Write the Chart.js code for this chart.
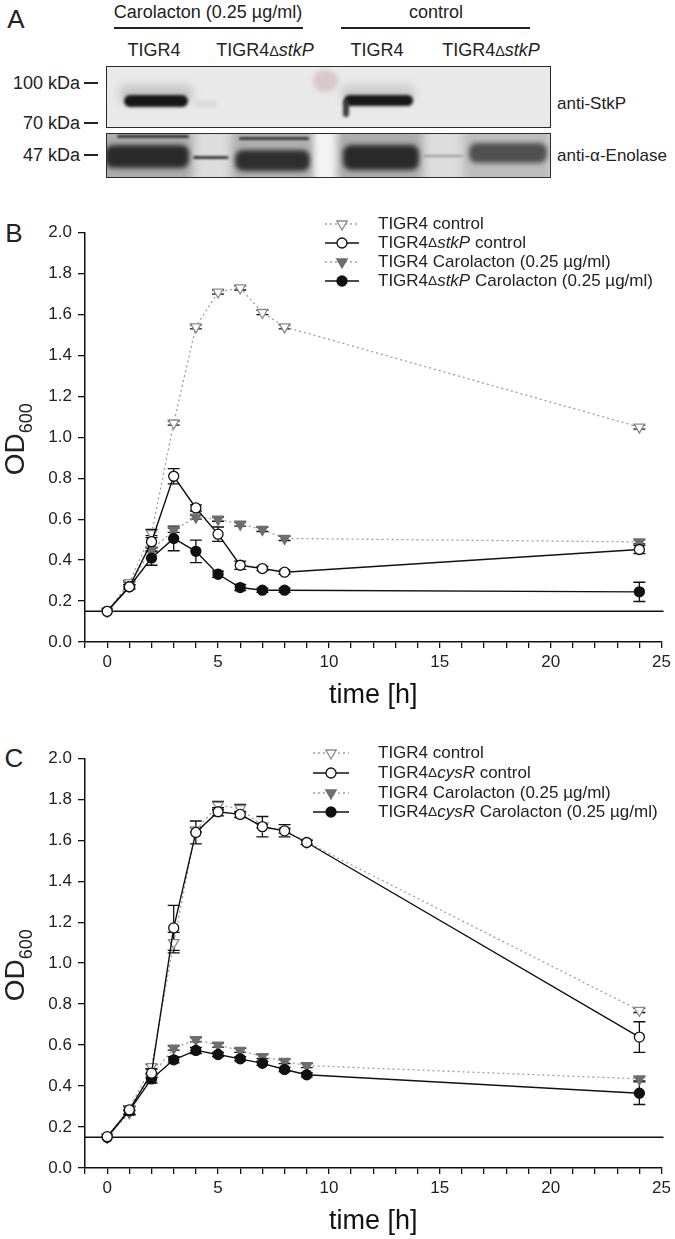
<!DOCTYPE html>
<html>
<head>
<meta charset="utf-8">
<script src="https://cdn.jsdelivr.net/npm/chart.js@4/dist/chart.umd.min.js"></script>
<style>
  body { margin: 0; background: #fff; }
  #page { position: relative; width: 675px; height: 1239px; background: #fff; overflow: hidden;
          font-family: "Liberation Sans", Arial, sans-serif; color: #222; }
  .t { position: absolute; line-height: 1; white-space: nowrap; transform: translate(-50%, -50%); }
  .l { transform: translate(0, -50%); }
  .r { transform: translate(-100%, -50%); }
  .rule { position: absolute; height: 1.5px; background: #222; }
  .box { position: absolute; border: 1.5px solid #2a2a2a; overflow: hidden; }
  .b { position: absolute; border-radius: 8px; }
  .d { font-size: 0.8em; }
  canvas { position: absolute; left: 0; }
</style>
</head>
<body>
<div id="page">
  <!-- panel A: western blot -->
  <div class="t" style="left:16px;top:19px;font-size:26px">A</div>
  <div class="t" style="left:208px;top:12px;font-size:18px">Carolacton (0.25 µg/ml)</div>
  <div class="t" style="left:436px;top:12px;font-size:18px">control</div>
  <div class="rule" style="left:114px;top:27px;width:189px"></div>
  <div class="rule" style="left:341px;top:27px;width:189px"></div>
  <div class="t" style="left:154px;top:50px;font-size:18px">TIGR4</div>
  <div class="t" style="left:265px;top:50px;font-size:18px">TIGR4<span class="d">Δ</span><i>stkP</i></div>
  <div class="t" style="left:377px;top:50px;font-size:18px">TIGR4</div>
  <div class="t" style="left:491px;top:50px;font-size:18px">TIGR4<span class="d">Δ</span><i>stkP</i></div>

  <div class="t r" style="left:80px;top:83px;font-size:18px">100 kDa</div>
  <div class="t r" style="left:80px;top:123px;font-size:18px">70 kDa</div>
  <div class="t r" style="left:80px;top:155px;font-size:18px">47 kDa</div>
  <div class="rule" style="left:84px;top:82px;width:14px"></div>
  <div class="rule" style="left:84px;top:122px;width:14px"></div>
  <div class="rule" style="left:84px;top:154px;width:14px"></div>
  <div class="t l" style="left:557px;top:103px;font-size:17px">anti-StkP</div>
  <div class="t l" style="left:557px;top:155px;font-size:17px">anti-α-Enolase</div>

  <div class="box" style="left:106px;top:66px;width:443px;height:60px;background:#e9e9e9">
    <div class="b" style="left:12px;top:18px;width:74px;height:18px;background:#c6c6c6;filter:blur(4px)"></div>
    <div class="b" style="left:17px;top:28px;width:64px;height:12px;background:#171717;filter:blur(1.8px)"></div>
    <div class="b" style="left:88px;top:35px;width:22px;height:4px;background:#d0d0d0;filter:blur(2px)"></div>
    <div class="b" style="left:206px;top:3px;width:25px;height:22px;border-radius:50%;background:#d8c8c8;filter:blur(2px)"></div>
    <div class="b" style="left:234px;top:18px;width:74px;height:18px;background:#cbcbcb;filter:blur(4px)"></div>
    <div class="b" style="left:237px;top:28px;width:69px;height:11px;background:#171717;filter:blur(1.8px)"></div>
    <div class="b" style="left:236px;top:33px;width:6px;height:17px;background:#3a3a3a;filter:blur(1.6px)"></div>
  </div>
  <div class="box" style="left:106px;top:133px;width:443px;height:43px;background:#dcdcdc">
    <div class="b" style="left:-6px;top:-6px;width:92px;height:56px;background:#ababab;filter:blur(4px)"></div>
    <div class="b" style="left:10px;top:1px;width:72px;height:3px;background:#3a3a3a;filter:blur(1px)"></div>
    <div class="b" style="left:-2px;top:11px;width:84px;height:23px;background:#2a2a2a;filter:blur(2.4px)"></div>
    <div class="b" style="left:86px;top:22px;width:36px;height:3px;background:#3a3a3a;filter:blur(1.2px)"></div>
    <div class="b" style="left:124px;top:-6px;width:84px;height:56px;background:#b0b0b0;filter:blur(4px)"></div>
    <div class="b" style="left:132px;top:3px;width:70px;height:3px;background:#3a3a3a;filter:blur(1px)"></div>
    <div class="b" style="left:128px;top:16px;width:75px;height:21px;background:#2e2e2e;filter:blur(2.4px)"></div>
    <div class="b" style="left:208px;top:-6px;width:26px;height:56px;background:#f4f4f4;filter:blur(3px)"></div>
    <div class="b" style="left:230px;top:-6px;width:86px;height:56px;background:#ababab;filter:blur(4px)"></div>
    <div class="b" style="left:236px;top:11px;width:76px;height:25px;background:#2a2a2a;filter:blur(2.4px)"></div>
    <div class="b" style="left:316px;top:21px;width:42px;height:2px;background:#9a9a9a;filter:blur(1px)"></div>
    <div class="b" style="left:356px;top:-6px;width:88px;height:56px;background:#bcbcbc;filter:blur(4px)"></div>
    <div class="b" style="left:362px;top:9px;width:78px;height:20px;background:#505050;filter:blur(2.4px)"></div>
  </div>

  <div class="t" style="left:14px;top:233px;font-size:26px">B</div>
  <div class="t" style="left:14px;top:758px;font-size:26px">C</div>

  <canvas id="chartB" width="675" height="512" style="top:200px"></canvas>
  <canvas id="chartC" width="675" height="512" style="top:726px"></canvas>
</div>

<script>
// ---- data ----
const timesB = [0, 1, 2, 3, 4, 5, 6, 7, 8, 24];
const timesC = [0, 1, 2, 3, 4, 5, 6, 7, 8, 9, 24];

const labelsB = ['TIGR4 control', 'TIGR4Δ*stkP* control',
                 'TIGR4 Carolacton (0.25 µg/ml)', 'TIGR4Δ*stkP* Carolacton (0.25 µg/ml)'];
const labelsC = ['TIGR4 control', 'TIGR4Δ*cysR* control',
                 'TIGR4 Carolacton (0.25 µg/ml)', 'TIGR4Δ*cysR* Carolacton (0.25 µg/ml)'];

// panel B
const bTigr4Control    = [0.15, 0.29, 0.53, 1.07, 1.54, 1.71, 1.73, 1.61, 1.54, 1.05];
const bStkPControl     = [0.15, 0.27, 0.49, 0.81, 0.655, 0.527, 0.375, 0.359, 0.341, 0.452];
const bTigr4Caro       = [0.15, 0.28, 0.45, 0.546, 0.61, 0.60, 0.576, 0.55, 0.506, 0.489];
const bStkPCaro        = [0.15, 0.27, 0.41, 0.506, 0.443, 0.331, 0.266, 0.253, 0.253, 0.245];
const bTigr4ControlErr = [0, 0.01, 0.02, 0.01, 0.01, 0.01, 0.01, 0.01, 0.01, 0.01];
const bStkPControlErr  = [0, 0.01, 0.03, 0.037, 0.015, 0.035, 0.02, 0.01, 0.01, 0.02];
const bTigr4CaroErr    = [0, 0.01, 0.01, 0.01, 0.01, 0.01, 0.01, 0.01, 0.01, 0.01];
const bStkPCaroErr     = [0, 0.01, 0.035, 0.06, 0.055, 0.015, 0.015, 0.01, 0.01, 0.047];

// panel C
const cTigr4Control    = [0.15, 0.29, 0.495, 1.10, 1.65, 1.77, 1.755, 1.67, 1.645, 1.59, 0.769];
const cCysRControl     = [0.153, 0.284, 0.463, 1.172, 1.638, 1.739, 1.726, 1.666, 1.646, 1.589, 0.639];
const cTigr4Caro       = [0.15, 0.27, 0.45, 0.585, 0.626, 0.60, 0.574, 0.544, 0.52, 0.50, 0.435];
const cCysRCaro        = [0.15, 0.28, 0.435, 0.528, 0.574, 0.554, 0.533, 0.511, 0.481, 0.455, 0.365];
const cTigr4ControlErr = [0, 0.01, 0.01, 0.05, 0.01, 0.02, 0.02, 0.01, 0.01, 0.01, 0.01];
const cCysRControlErr  = [0, 0.02, 0.02, 0.11, 0.056, 0.02, 0.015, 0.05, 0.03, 0.01, 0.075];
const cTigr4CaroErr    = [0, 0.01, 0.01, 0.01, 0.01, 0.01, 0.01, 0.01, 0.01, 0.01, 0.01];
const cCysRCaroErr     = [0, 0.02, 0.02, 0.015, 0.015, 0.01, 0.01, 0.01, 0.01, 0.01, 0.055];

const baselineOD = 0.15; // starting OD line

const FONT = '"Liberation Sans", Arial, sans-serif';

// series look, same order as the legends
const styles = [
  { pointStyle: 'triangle', rotation: 180, radius: 6, fill: '#ffffff', stroke: '#8a8a8a', line: '#9e9e9e', dash: [2, 3], width: 1.3, order: 2 },
  { pointStyle: 'circle', rotation: 0, radius: 5, fill: '#ffffff', stroke: '#111111', line: '#111111', dash: [], width: 1.4, order: 0 },
  { pointStyle: 'triangle', rotation: 180, radius: 6, fill: '#6e6e6e', stroke: '#6e6e6e', line: '#9e9e9e', dash: [2, 3], width: 1.3, order: 3 },
  { pointStyle: 'circle', rotation: 0, radius: 5, fill: '#111111', stroke: '#111111', line: '#111111', dash: [], width: 1.4, order: 1 },
];

// text with *italic* parts and a smaller delta
function drawRich(ctx, str, x, y, size) {
  str.split(/(\*[^*]+\*|Δ)/).filter(Boolean).forEach(tok => {
    let s = size, it = '';
    if (tok === 'Δ') s = size * 0.8;
    if (tok[0] === '*') { tok = tok.slice(1, -1); it = 'italic '; }
    ctx.font = it + s + 'px ' + FONT;
    ctx.fillText(tok, x, y);
    x += ctx.measureText(tok).width;
  });
}

function drawMarker(ctx, st, x, y) {
  ctx.fillStyle = st.fill;
  ctx.strokeStyle = st.stroke;
  ctx.lineWidth = 1.3;
  ctx.setLineDash([]);
  ctx.beginPath();
  if (st.pointStyle === 'circle') {
    ctx.arc(x, y, st.radius, 0, Math.PI * 2);
  } else {
    const r = st.radius;
    let a = Math.PI;
    for (let k = 0; k < 3; k++) {
      const px = x + Math.sin(a) * r, py = y - Math.cos(a) * r;
      k ? ctx.lineTo(px, py) : ctx.moveTo(px, py);
      a += Math.PI * 2 / 3;
    }
    ctx.closePath();
  }
  ctx.fill();
  ctx.stroke();
}

function makeExtras(legend) {
  return {
    id: 'extras',
    beforeDatasetsDraw(chart) {
      const { ctx, chartArea, scales: { x, y } } = chart;
      ctx.save();
      ctx.strokeStyle = '#111';
      ctx.lineWidth = 1.5;
      const yb = y.getPixelForValue(baselineOD);
      ctx.beginPath();
      ctx.moveTo(chartArea.left, yb);
      ctx.lineTo(chartArea.right + 2, yb);
      ctx.stroke();
      // error bars
      ctx.lineWidth = 1.3;
      chart.data.datasets.forEach(ds => {
        ds.data.forEach((p, i) => {
          const e = ds.errors[i];
          if (!e) return;
          const px = x.getPixelForValue(p.x);
          const top = y.getPixelForValue(p.y + e), bot = y.getPixelForValue(p.y - e);
          ctx.beginPath();
          ctx.moveTo(px, top); ctx.lineTo(px, bot);
          ctx.moveTo(px - 6, top); ctx.lineTo(px + 6, top);
          ctx.moveTo(px - 6, bot); ctx.lineTo(px + 6, bot);
          ctx.stroke();
        });
      });
      ctx.restore();
    },
    afterDraw(chart) {
      const { ctx, chartArea } = chart;
      ctx.save();
      // legend
      ctx.textBaseline = 'middle';
      chart.data.datasets.forEach((ds, i) => {
        const st = styles[i], ry = legend.rows[i];
        ctx.strokeStyle = st.line;
        ctx.lineWidth = st.width;
        ctx.setLineDash(st.dash);
        ctx.beginPath();
        ctx.moveTo(legend.x0, ry); ctx.lineTo(legend.x1, ry);
        ctx.stroke();
        drawMarker(ctx, st, legend.xm, ry);
        ctx.fillStyle = '#222';
        drawRich(ctx, ds.label, legend.tx, ry, 17);
      });
      // y title OD600
      const cy = (chartArea.top + chartArea.bottom) / 2 + 2;
      ctx.translate(24, cy);
      ctx.rotate(-Math.PI / 2);
      ctx.textBaseline = 'alphabetic';
      ctx.font = '28px ' + FONT;
      const w1 = ctx.measureText('OD').width;
      ctx.font = '18px ' + FONT;
      const w2 = ctx.measureText('600').width;
      const sx = -(w1 + w2) / 2;
      ctx.font = '28px ' + FONT;
      ctx.fillText('OD', sx, 0);
      ctx.font = '18px ' + FONT;
      ctx.fillText('600', sx + w1, 8);
      ctx.restore();
    }
  };
}

function makeChart(id, times, series, errs, labels, legend, padTop) {
  const datasets = series.map((vals, i) => ({
    label: labels[i],
    data: times.map((t, k) => ({ x: t, y: vals[k] })),
    errors: errs[i],
    borderColor: styles[i].line,
    borderWidth: styles[i].width,
    borderDash: styles[i].dash,
    pointStyle: styles[i].pointStyle,
    pointRotation: styles[i].rotation,
    pointRadius: styles[i].radius,
    pointBackgroundColor: styles[i].fill,
    pointBorderColor: styles[i].stroke,
    pointBorderWidth: 1.3,
    tension: 0,
    fill: false,
    order: styles[i].order,
  }));

  return new Chart(document.getElementById(id), {
    type: 'line',
    data: { datasets },
    options: {
      responsive: false,
      animation: false,
      events: [],
      layout: { padding: { top: padTop, right: 12, left: 0, bottom: 0 } },
      plugins: { legend: { display: false }, tooltip: { enabled: false } },
      scales: {
        x: {
          type: 'linear',
          min: -1,
          max: 25,
          afterFit: (s) => { s.height = 70; },
          border: { color: '#111', width: 1.5 },
          grid: { drawOnChartArea: false, tickLength: 6, color: '#111', lineWidth: 1.3 },
          ticks: {
            stepSize: 1,
            autoSkip: false,
            maxRotation: 0,
            padding: 4,
            color: '#222',
            font: { family: FONT, size: 17 },
            callback: (v) => (v % 5 === 0 ? String(v) : ''),
          },
          title: { display: true, text: 'time [h]', color: '#111', padding: { top: 0, bottom: 0 },
                   font: { family: FONT, size: 27 } },
        },
        y: {
          min: 0,
          max: 2,
          afterFit: (s) => { s.width = 85; },
          border: { color: '#111', width: 1.5 },
          grid: { drawOnChartArea: false, tickLength: 7, color: '#111', lineWidth: 1.3 },
          ticks: {
            stepSize: 0.2,
            padding: 6,
            color: '#222',
            font: { family: FONT, size: 17 },
            callback: (v) => v.toFixed(1),
          },
        },
      },
    },
    plugins: [makeExtras(legend)],
  });
}

makeChart('chartB', timesB,
  [bTigr4Control, bStkPControl, bTigr4Caro, bStkPCaro],
  [bTigr4ControlErr, bStkPControlErr, bTigr4CaroErr, bStkPCaroErr],
  labelsB,
  { rows: [24, 43, 62, 81], x0: 325, x1: 359, xm: 342, tx: 378 },
  32.7);

makeChart('chartC', timesC,
  [cTigr4Control, cCysRControl, cTigr4Caro, cCysRCaro],
  [cTigr4ControlErr, cCysRControlErr, cTigr4CaroErr, cCysRCaroErr],
  labelsC,
  { rows: [27, 47, 67, 86], x0: 313, x1: 349, xm: 331, tx: 378 },
  32.3);
</script>
</body>
</html>
